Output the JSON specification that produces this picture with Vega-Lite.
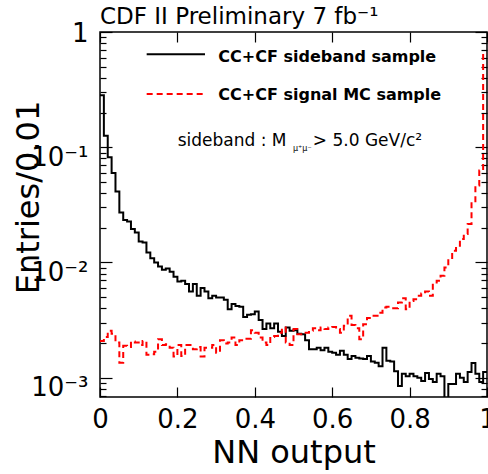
{
  "$schema": "https://vega.github.io/schema/vega-lite/v6.json",
  "width": 387,
  "height": 365,
  "autosize": {"type": "none"},
  "padding": {"left": 100, "top": 32, "right": 1, "bottom": 77},
  "title": {"text": "CDF II Preliminary 7 fb⁻¹", "anchor": "start", "frame": "group", "font": "DejaVu Sans", "fontSize": 23, "fontWeight": "normal", "color": "#000", "baseline": "alphabetic", "offset": 6, "dy": 33},
  "config": {
    "view": {"stroke": "#000", "strokeWidth": 1.5},
    "font": "DejaVu Sans",
    "axis": {"domain": false, "grid": false, "tickColor": "#000", "tickWidth": 1.2, "labelColor": "#000", "titleColor": "#000", "labelFont": "DejaVu Sans", "titleFont": "DejaVu Sans", "titleFontWeight": "normal", "labelFlush": false, "labelOverlap": false, "labelBound": false}
  },
  "data": {"values": [
    {"nn": 0.00, "sideband": 0.282, "signal": 0.00208},
    {"nn": 0.01, "sideband": 0.126, "signal": 0.00226},
    {"nn": 0.02, "sideband": 0.0818, "signal": 0.00255},
    {"nn": 0.03, "sideband": 0.0599, "signal": 0.00241},
    {"nn": 0.04, "sideband": 0.0412, "signal": 0.00202},
    {"nn": 0.05, "sideband": 0.0272, "signal": 0.00135},
    {"nn": 0.06, "sideband": 0.0234, "signal": 0.00189},
    {"nn": 0.07, "sideband": 0.0227, "signal": 0.00185},
    {"nn": 0.08, "sideband": 0.0195, "signal": 0.00206},
    {"nn": 0.09, "sideband": 0.0182, "signal": 0.00202},
    {"nn": 0.10, "sideband": 0.0152, "signal": 0.00192},
    {"nn": 0.11, "sideband": 0.0149, "signal": 0.00208},
    {"nn": 0.12, "sideband": 0.0122, "signal": 0.00158},
    {"nn": 0.13, "sideband": 0.0109, "signal": 0.00160},
    {"nn": 0.14, "sideband": 0.0100, "signal": 0.00168},
    {"nn": 0.15, "sideband": 0.00923, "signal": 0.00216},
    {"nn": 0.16, "sideband": 0.00864, "signal": 0.00192},
    {"nn": 0.17, "sideband": 0.00887, "signal": 0.00195},
    {"nn": 0.18, "sideband": 0.00830, "signal": 0.00182},
    {"nn": 0.19, "sideband": 0.00751, "signal": 0.00153},
    {"nn": 0.20, "sideband": 0.00684, "signal": 0.00192},
    {"nn": 0.21, "sideband": 0.00693, "signal": 0.00154},
    {"nn": 0.22, "sideband": 0.00649, "signal": 0.00192},
    {"nn": 0.23, "sideband": 0.00560, "signal": 0.00192},
    {"nn": 0.24, "sideband": 0.00649, "signal": 0.00177},
    {"nn": 0.25, "sideband": 0.00513, "signal": 0.00185},
    {"nn": 0.26, "sideband": 0.00599, "signal": 0.00153},
    {"nn": 0.27, "sideband": 0.00560, "signal": 0.00182},
    {"nn": 0.28, "sideband": 0.00490, "signal": 0.00182},
    {"nn": 0.29, "sideband": 0.00513, "signal": 0.00192},
    {"nn": 0.30, "sideband": 0.00496, "signal": 0.00165},
    {"nn": 0.31, "sideband": 0.00496, "signal": 0.00211},
    {"nn": 0.32, "sideband": 0.00474, "signal": 0.00198},
    {"nn": 0.33, "sideband": 0.00393, "signal": 0.00202},
    {"nn": 0.34, "sideband": 0.00435, "signal": 0.00223},
    {"nn": 0.35, "sideband": 0.00420, "signal": 0.00192},
    {"nn": 0.36, "sideband": 0.00412, "signal": 0.00211},
    {"nn": 0.37, "sideband": 0.00337, "signal": 0.00218},
    {"nn": 0.38, "sideband": 0.00351, "signal": 0.00218},
    {"nn": 0.39, "sideband": 0.00356, "signal": 0.00258},
    {"nn": 0.40, "sideband": 0.00375, "signal": 0.00246},
    {"nn": 0.41, "sideband": 0.00316, "signal": 0.00223},
    {"nn": 0.42, "sideband": 0.00264, "signal": 0.00202},
    {"nn": 0.43, "sideband": 0.00295, "signal": 0.00192},
    {"nn": 0.44, "sideband": 0.00269, "signal": 0.00226},
    {"nn": 0.45, "sideband": 0.00295, "signal": 0.00230},
    {"nn": 0.46, "sideband": 0.00251, "signal": 0.00246},
    {"nn": 0.47, "sideband": 0.00230, "signal": 0.00272},
    {"nn": 0.48, "sideband": 0.00272, "signal": 0.00202},
    {"nn": 0.49, "sideband": 0.00255, "signal": 0.00192},
    {"nn": 0.50, "sideband": 0.00258, "signal": 0.00264},
    {"nn": 0.51, "sideband": 0.00241, "signal": 0.00238},
    {"nn": 0.52, "sideband": 0.00238, "signal": 0.00246},
    {"nn": 0.53, "sideband": 0.00211, "signal": 0.00246},
    {"nn": 0.54, "sideband": 0.00177, "signal": 0.00255},
    {"nn": 0.55, "sideband": 0.00177, "signal": 0.00269},
    {"nn": 0.56, "sideband": 0.00182, "signal": 0.00258},
    {"nn": 0.57, "sideband": 0.00173, "signal": 0.00272},
    {"nn": 0.58, "sideband": 0.00182, "signal": 0.00264},
    {"nn": 0.59, "sideband": 0.00168, "signal": 0.00272},
    {"nn": 0.60, "sideband": 0.00165, "signal": 0.00276},
    {"nn": 0.61, "sideband": 0.00158, "signal": 0.00264},
    {"nn": 0.62, "sideband": 0.00171, "signal": 0.00246},
    {"nn": 0.63, "sideband": 0.00158, "signal": 0.00282},
    {"nn": 0.64, "sideband": 0.00145, "signal": 0.00344},
    {"nn": 0.65, "sideband": 0.00154, "signal": 0.00287},
    {"nn": 0.66, "sideband": 0.00149, "signal": 0.00269},
    {"nn": 0.67, "sideband": 0.00147, "signal": 0.00216},
    {"nn": 0.68, "sideband": 0.00145, "signal": 0.00291},
    {"nn": 0.69, "sideband": 0.00154, "signal": 0.00329},
    {"nn": 0.70, "sideband": 0.00138, "signal": 0.00344},
    {"nn": 0.71, "sideband": 0.00135, "signal": 0.00344},
    {"nn": 0.72, "sideband": 0.00126, "signal": 0.00367},
    {"nn": 0.73, "sideband": 0.00182, "signal": 0.00406},
    {"nn": 0.74, "sideband": 0.00140, "signal": 0.00412},
    {"nn": 0.75, "sideband": 0.00138, "signal": 0.00401},
    {"nn": 0.76, "sideband": 0.00114, "signal": 0.00401},
    {"nn": 0.77, "sideband": 0.000847, "signal": 0.00449},
    {"nn": 0.78, "sideband": 0.00108, "signal": 0.00490},
    {"nn": 0.79, "sideband": 0.00103, "signal": 0.00393},
    {"nn": 0.80, "sideband": 0.00108, "signal": 0.00464},
    {"nn": 0.81, "sideband": 0.00103, "signal": 0.00480},
    {"nn": 0.82, "sideband": 0.00100, "signal": 0.00513},
    {"nn": 0.83, "sideband": 0.000936, "signal": 0.00537},
    {"nn": 0.84, "sideband": 0.00110, "signal": 0.00560},
    {"nn": 0.85, "sideband": 0.000974, "signal": 0.00513},
    {"nn": 0.86, "sideband": 0.000918, "signal": 0.00670},
    {"nn": 0.87, "sideband": 0.00108, "signal": 0.00693},
    {"nn": 0.88, "sideband": 0.00103, "signal": 0.00766},
    {"nn": 0.89, "sideband": 0.0005, "signal": 0.00905},
    {"nn": 0.90, "sideband": 0.000882, "signal": 0.01071},
    {"nn": 0.91, "sideband": 0.000882, "signal": 0.01264},
    {"nn": 0.92, "sideband": 0.00108, "signal": 0.01397},
    {"nn": 0.93, "sideband": 0.000998, "signal": 0.01597},
    {"nn": 0.94, "sideband": 0.000918, "signal": 0.01766},
    {"nn": 0.95, "sideband": 0.00112, "signal": 0.02158},
    {"nn": 0.96, "sideband": 0.00134, "signal": 0.0333},
    {"nn": 0.97, "sideband": 0.00108, "signal": 0.0465},
    {"nn": 0.98, "sideband": 0.000918, "signal": 0.0627},
    {"nn": 0.99, "sideband": 0.00112, "signal": 0.649},
    {"nn": 1.00, "sideband": 0.00112, "signal": 0.649}
  ]},
  "resolve": {"axis": {"x": "independent", "y": "independent"}},
  "layer": [
    {
      "mark": {"type": "line", "interpolate": "step-after", "color": "#000", "strokeWidth": 2, "clip": true},
      "encoding": {
        "x": {"field": "nn", "type": "quantitative", "scale": {"domain": [0, 1], "nice": false, "zero": false},
          "axis": {"orient": "bottom", "values": [0, 0.2, 0.4, 0.6, 0.8, 1], "tickSize": -10, "labelPadding": 40, "labelFontSize": 26, "labelBaseline": "alphabetic", "labelExpr": "datum.value == 0 ? '0' : datum.value == 1 ? '1' : format(datum.value, '.1f')", "title": "NN output", "titleFontSize": 32, "titleX": 193.5, "titleY": 65, "titleBaseline": "alphabetic", "titleAlign": "center"}},
        "y": {"field": "sideband", "type": "quantitative", "scale": {"type": "log", "domain": [0.00068, 1], "nice": false},
          "axis": {"orient": "left", "values": [0.001, 0.01, 0.1, 1], "tickSize": -12, "labelPadding": 24, "labelFontSize": 26, "labelAlign": "right", "labelBaseline": "middle", "labelOffset": {"condition": {"test": "datum.value > 0.5", "value": 1}, "value": 10}, "labelExpr": "datum.value > 0.5 ? '1' : datum.value > 0.05 ? '10⁻¹' : datum.value > 0.005 ? '10⁻²' : '10⁻³'", "title": "Entries/0.01", "titleFontSize": 32, "titleX": -72, "titleY": 165, "titleAngle": -90, "titleAlign": "center", "titleBaseline": "middle"}}
      }
    },
    {
      "mark": {"type": "line", "interpolate": "step-after", "color": "#ff0000", "strokeWidth": 2, "strokeDash": [6, 4], "clip": true},
      "encoding": {
        "x": {"field": "nn", "type": "quantitative", "scale": {"domain": [0, 1], "nice": false, "zero": false},
          "axis": {"orient": "top", "values": [0, 0.2, 0.4, 0.6, 0.8, 1], "tickSize": -10, "labels": false, "title": null}},
        "y": {"field": "signal", "type": "quantitative", "scale": {"type": "log", "domain": [0.00068, 1], "nice": false},
          "axis": {"orient": "right", "values": [0.001, 0.01, 0.1, 1], "tickSize": -12, "labels": false, "title": null}}
      }
    },
    {
      "data": {"values": [{}]},
      "mark": {"type": "rule", "color": "#000", "strokeWidth": 2},
      "encoding": {
        "x": {"datum": 0.1206, "type": "quantitative", "axis": null},
        "x2": {"datum": 0.2713},
        "y": {"datum": 0.64, "type": "quantitative", "scale": {"type": "log", "domain": [0.00068, 1], "nice": false},
          "axis": {"orient": "left", "values": [0.0007, 0.0008, 0.0009, 0.002, 0.003, 0.004, 0.005, 0.006, 0.007, 0.008, 0.009, 0.02, 0.03, 0.04, 0.05, 0.06, 0.07, 0.08, 0.09, 0.2, 0.3, 0.4, 0.5, 0.6, 0.7, 0.8, 0.9], "tickSize": -6, "labels": false, "title": null}}
      }
    },
    {
      "data": {"values": [{}]},
      "mark": {"type": "rule", "color": "#ff0000", "strokeWidth": 2, "strokeDash": [6, 4]},
      "encoding": {
        "x": {"datum": 0.1206, "type": "quantitative", "axis": null},
        "x2": {"datum": 0.2713},
        "y": {"datum": 0.2897, "type": "quantitative", "scale": {"type": "log", "domain": [0.00068, 1], "nice": false},
          "axis": {"orient": "right", "values": [0.0007, 0.0008, 0.0009, 0.002, 0.003, 0.004, 0.005, 0.006, 0.007, 0.008, 0.009, 0.02, 0.03, 0.04, 0.05, 0.06, 0.07, 0.08, 0.09, 0.2, 0.3, 0.4, 0.5, 0.6, 0.7, 0.8, 0.9], "tickSize": -6, "labels": false, "title": null}}
      }
    },
    {
      "data": {"values": [{}]},
      "mark": {"type": "text", "text": "CC+CF sideband sample", "font": "DejaVu Sans", "fontSize": 16, "fontWeight": "bold", "color": "#000", "align": "left", "baseline": "alphabetic"},
      "encoding": {
        "x": {"datum": 0.3057, "type": "quantitative", "axis": null},
        "y": {"datum": 0.549, "type": "quantitative", "axis": null}
      }
    },
    {
      "data": {"values": [{}]},
      "mark": {"type": "text", "text": "CC+CF signal MC sample", "font": "DejaVu Sans", "fontSize": 16, "fontWeight": "bold", "color": "#000", "align": "left", "baseline": "alphabetic"},
      "encoding": {
        "x": {"datum": 0.3057, "type": "quantitative", "axis": null},
        "y": {"datum": 0.2569, "type": "quantitative", "axis": null}
      }
    },
    {
      "data": {"values": [{}]},
      "mark": {"type": "text", "text": "sideband : M", "font": "DejaVu Sans", "fontSize": 17, "color": "#000", "align": "left", "baseline": "alphabetic"},
      "encoding": {
        "x": {"datum": 0.2008, "type": "quantitative", "axis": null},
        "y": {"datum": 0.1024, "type": "quantitative", "axis": null}
      }
    },
    {
      "data": {"values": [{}]},
      "mark": {"type": "text", "text": "μ⁺μ⁻", "font": "DejaVu Sans", "fontSize": 8, "color": "#000", "align": "left", "baseline": "alphabetic"},
      "encoding": {
        "x": {"datum": 0.4987, "type": "quantitative", "axis": null},
        "y": {"datum": 0.0927, "type": "quantitative", "axis": null}
      }
    },
    {
      "data": {"values": [{}]},
      "mark": {"type": "text", "text": "> 5.0 GeV/c²", "font": "DejaVu Sans", "fontSize": 17, "color": "#000", "align": "left", "baseline": "alphabetic"},
      "encoding": {
        "x": {"datum": 0.55, "type": "quantitative", "axis": null},
        "y": {"datum": 0.1024, "type": "quantitative", "axis": null}
      }
    }
  ]
}
